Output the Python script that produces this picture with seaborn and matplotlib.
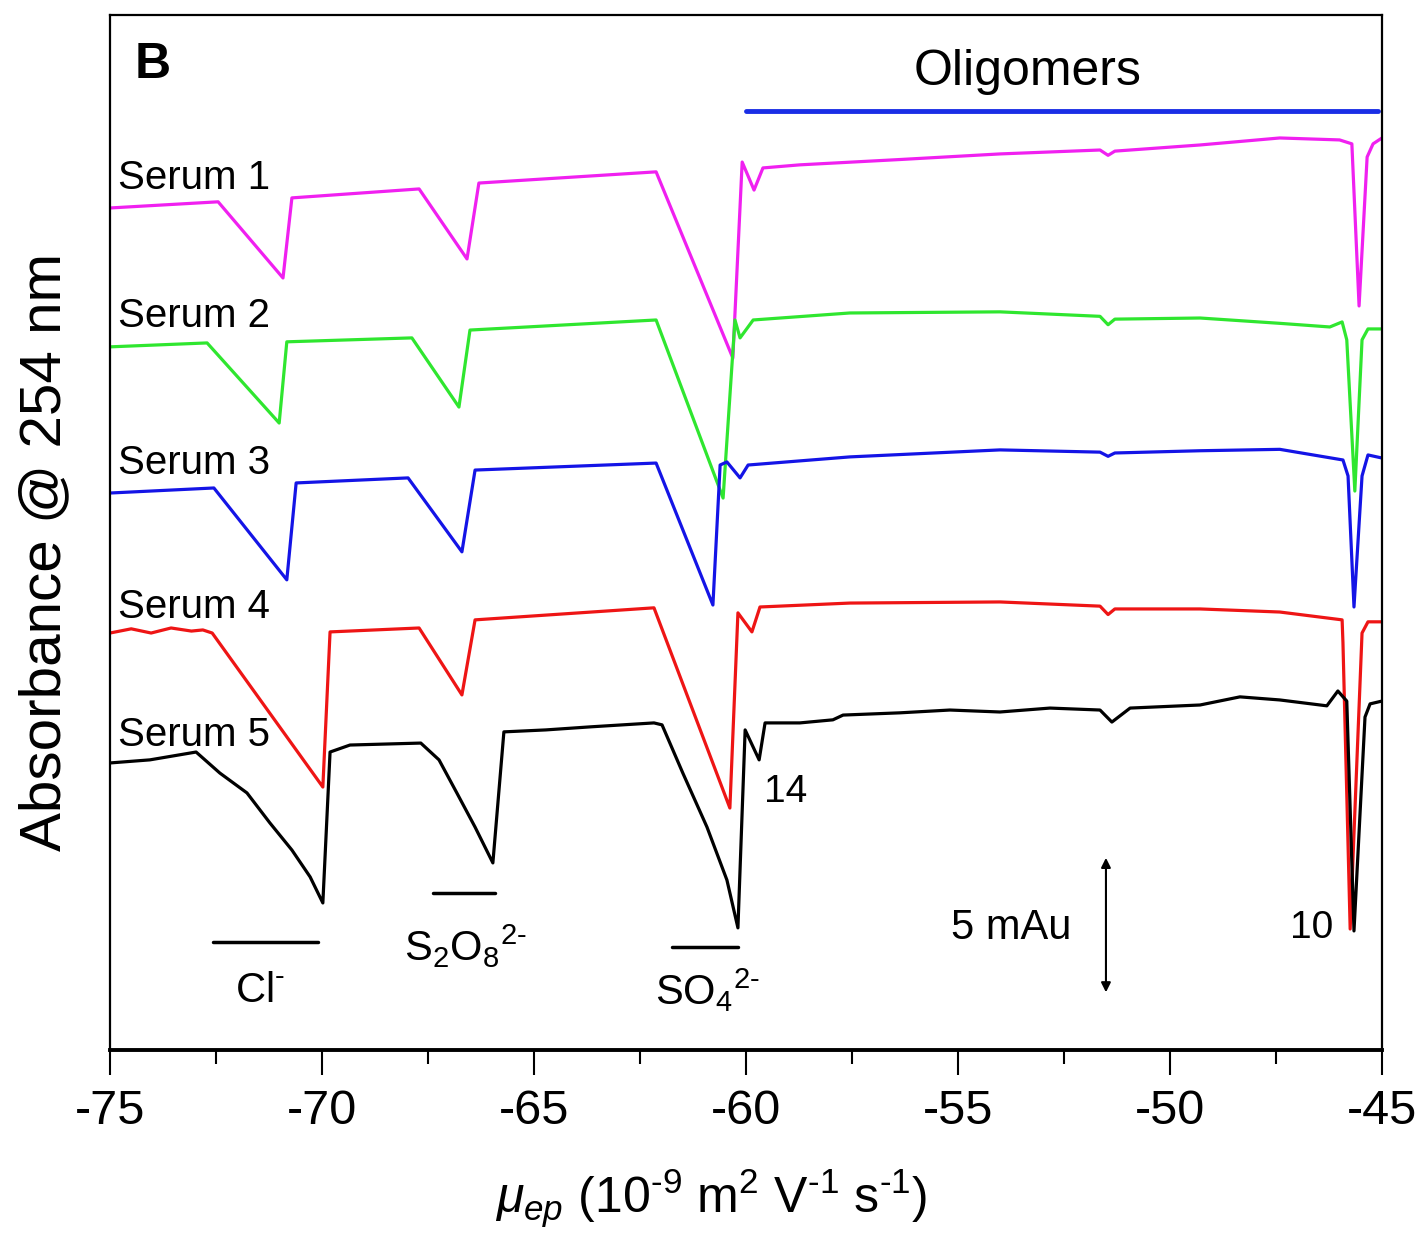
import matplotlib
matplotlib.use("Agg")
import matplotlib.pyplot as plt
from matplotlib.ticker import MultipleLocator
import pandas as pd
import seaborn as sns

# Electropherogram traces (mobility, absorbance in mAu)
mu_s1 = [-75.0, -72.45, -70.92, -70.71, -67.71, -66.58, -66.30, -62.12, -60.31, -60.09,
         -59.81, -59.60, -58.73, -56.37, -54.01, -51.65, -51.46, -51.30, -49.29, -47.41,
         -46.0, -45.71, -45.54, -45.35, -45.21, -45.0]
abs_s1 = [30.07, 30.29, 27.57, 30.43, 30.75, 28.25, 30.96, 31.36, 24.71, 31.71,
          30.71, 31.5, 31.61, 31.8, 32.0, 32.14, 31.95, 32.1, 32.32, 32.57,
          32.5, 32.36, 26.57, 31.89, 32.36, 32.57]

mu_s2 = [-75.0, -72.71, -71.01, -70.83, -67.88, -66.77, -66.51, -62.12, -60.54, -60.26,
         -60.14, -59.83, -57.55, -54.01, -51.65, -51.46, -51.30, -49.29, -47.41, -46.23,
         -45.94, -45.83, -45.64, -45.47, -45.33, -45.0]
abs_s2 = [25.11, 25.25, 22.39, 25.29, 25.43, 22.96, 25.71, 26.07, 19.71, 26.07,
          25.43, 26.07, 26.32, 26.36, 26.2, 25.9, 26.1, 26.14, 25.95, 25.82,
          26.0, 25.36, 19.96, 25.36, 25.75, 25.75]

mu_s3 = [-75.0, -72.55, -70.83, -70.61, -67.97, -66.70, -66.39, -62.12, -60.78, -60.61,
         -60.45, -60.14, -59.95, -57.55, -54.01, -51.65, -51.46, -51.30, -49.29, -47.41,
         -45.92, -45.80, -45.66, -45.47, -45.33, -45.0]
abs_s3 = [19.89, 20.07, 16.79, 20.25, 20.43, 17.79, 20.71, 20.96, 15.89, 20.89,
          21.0, 20.43, 20.89, 21.18, 21.43, 21.35, 21.2, 21.32, 21.4, 21.45,
          21.07, 20.5, 15.82, 20.5, 21.25, 21.14]

mu_s4 = [-75.0, -74.5, -74.03, -73.56, -73.08, -72.81, -72.59, -69.98, -69.81, -67.71,
         -66.70, -66.39, -62.17, -60.38, -60.19, -59.86, -59.67, -57.55, -54.01, -51.65,
         -51.46, -51.30, -49.29, -47.41, -45.94, -45.92, -45.75, -45.47, -45.33, -45.0]
abs_s4 = [14.89, 15.04, 14.89, 15.07, 14.96, 15.0, 14.89, 9.39, 14.93, 15.07,
          12.68, 15.36, 15.79, 8.64, 15.61, 14.93, 15.82, 15.96, 16.0, 15.85,
          15.55, 15.75, 15.75, 15.64, 15.36, 14.54, 4.32, 14.89, 15.29, 15.29]

mu_s5 = [-75.0, -74.06, -72.97, -72.41, -71.77, -71.23, -70.71, -70.28, -69.98, -69.81,
         -69.34, -67.67, -67.24, -66.82, -66.39, -65.97, -65.71, -64.72, -63.66, -62.17,
         -61.98, -61.49, -60.92, -60.45, -60.19, -60.02, -59.69, -59.55, -58.73, -57.95,
         -57.71, -56.37, -55.19, -54.01, -52.83, -51.65, -51.37, -50.94, -49.29, -48.35,
         -47.41, -46.30, -46.04, -45.83, -45.66, -45.40, -45.28, -45.0]
abs_s5 = [10.25, 10.36, 10.64, 9.89, 9.18, 8.11, 7.14, 6.18, 5.25, 10.64,
          10.89, 10.96, 10.36, 9.18, 7.96, 6.68, 11.36, 11.43, 11.54, 11.68,
          11.61, 9.89, 7.96, 6.07, 4.36, 11.43, 10.36, 11.68, 11.68, 11.79,
          11.96, 12.04, 12.14, 12.07, 12.21, 12.14, 11.71, 12.21, 12.32, 12.61,
          12.5, 12.29, 12.82, 12.46, 4.25, 11.89, 12.36, 12.46]

series_names = ["Serum 1", "Serum 2", "Serum 3", "Serum 4", "Serum 5"]
series_colors = ["#f020f0", "#2fe62f", "#1414e6", "#ee1515", "#000000"]
label_y = [31.14, 26.21, 20.96, 15.82, 11.25]

frames = []
for name, xs, ys in zip(series_names,
                        [mu_s1, mu_s2, mu_s3, mu_s4, mu_s5],
                        [abs_s1, abs_s2, abs_s3, abs_s4, abs_s5]):
    frames.append(pd.DataFrame({"mu": xs, "absorbance": ys, "sample": name}))
df = pd.concat(frames, ignore_index=True)

sns.set_style("ticks")
plt.rcParams["font.family"] = ["Liberation Sans", "DejaVu Sans"]
plt.rcParams["mathtext.fontset"] = "custom"
plt.rcParams["mathtext.rm"] = "Liberation Sans"
plt.rcParams["mathtext.it"] = "Liberation Sans:italic"
plt.rcParams["mathtext.bf"] = "Liberation Sans:bold"
plt.rcParams["axes.unicode_minus"] = False
plt.rcParams["text.color"] = "black"
plt.rcParams["axes.labelcolor"] = "black"
plt.rcParams["xtick.color"] = "black"
plt.rcParams["axes.edgecolor"] = "black"

fig = plt.figure(figsize=(14.25, 12.43), dpi=100)
ax = fig.add_axes([0.0772, 0.1553, 0.8926, 0.8326])

sns.lineplot(data=df, x="mu", y="absorbance", hue="sample", hue_order=series_names,
             palette=series_colors, estimator=None, sort=False, legend=False,
             linewidth=2.3, ax=ax)

ax.set_xlim(-75, -45)
ax.set_ylim(0, 36.96)
ax.set_yticks([])
ax.xaxis.set_major_locator(MultipleLocator(5))
ax.xaxis.set_minor_locator(MultipleLocator(2.5))
ax.tick_params(axis="x", which="major", direction="out", length=18, width=1.5,
               labelsize=35, pad=10)
ax.tick_params(axis="x", which="minor", direction="out", length=10, width=1.5)
for side in ["left", "right", "top"]:
    ax.spines[side].set_linewidth(1.6)
ax.spines["bottom"].set_linewidth(2.8)

ax.set_xlabel("")
ax.set_ylabel("")
fig.text(0.499, 0.036,
         r"$\mu_{ep}$ (10$^{\text{-}9}$ m$^{2}$ V$^{\text{-}1}$ s$^{\text{-}1}$)",
         fontsize=36, ha="center", va="center")
fig.text(0.032, 0.556, "Absorbance @ 254 nm", rotation=90, fontsize=42,
         ha="center", va="center")

# Trace labels
for name, yy in zip(series_names, label_y):
    ax.text(-74.81, yy, name, fontsize=29, ha="left", va="center")

# Panel letter and oligomer region
ax.text(-74.0, 35.18, "B", fontsize=36, fontweight="bold", ha="center", va="center")
ax.plot([-60.0, -45.1], [33.54, 33.54], color="#1a2ee6", linewidth=3.5)
ax.text(-53.35, 34.93, "Oligomers", fontsize=36, ha="center", va="center")

# Ion markers
ax.plot([-72.57, -70.09], [3.86, 3.86], color="black", linewidth=2.5)
ax.plot([-67.38, -65.92], [5.61, 5.61], color="black", linewidth=2.5)
ax.plot([-61.75, -60.19], [3.68, 3.68], color="black", linewidth=2.5)
ax.text(-71.45, 2.11, r"Cl$^{\text{-}}$", fontsize=30, ha="center", va="center")
ax.text(-66.63, 3.71, r"S$_{2}$O$_{8}$$^{2\text{-}}$", fontsize=30, ha="center", va="center")
ax.text(-60.90, 2.11, r"SO$_{4}$$^{2\text{-}}$", fontsize=30, ha="center", va="center")

ax.text(-59.06, 9.21, "14", fontsize=28, ha="center", va="center")
ax.text(-46.65, 4.36, "10", fontsize=28, ha="center", va="center")

# Scale bar
ax.text(-53.75, 4.36, "5 mAu", fontsize=30, ha="center", va="center")
ax.annotate("", xy=(-51.51, 6.96), xytext=(-51.51, 1.96),
            arrowprops=dict(arrowstyle="<|-|>", color="black", lw=1.5,
                            mutation_scale=14))

fig.savefig("out.png", dpi=100)
